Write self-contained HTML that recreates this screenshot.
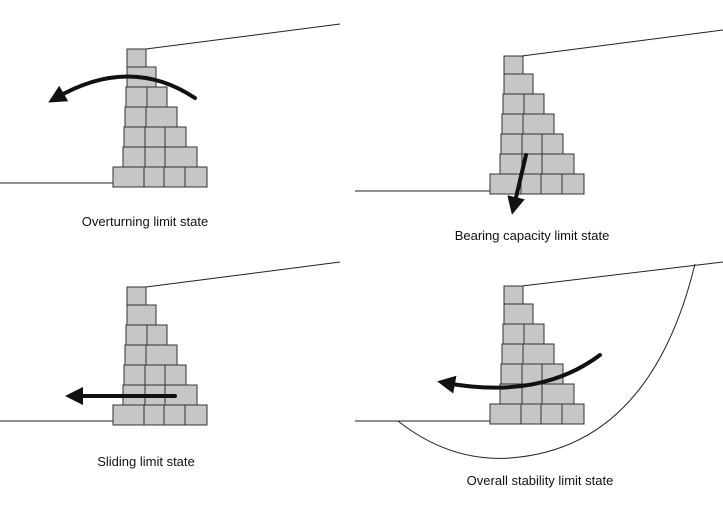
<!DOCTYPE html>
<html><head><meta charset="utf-8"><style>
html,body{margin:0;padding:0;background:#fff;}
svg{display:block;}
text{font-family:"Liberation Sans",Arial,sans-serif;font-size:13px;fill:#111;}
</style></head><body>
<svg width="723" height="515" viewBox="0 0 723 515" xmlns="http://www.w3.org/2000/svg">
<defs>
<g id="wall" fill="#c6c6c6" stroke="#333" stroke-width="1">
<rect x="127" y="49" width="19" height="18"/>
<rect x="127" y="67" width="29" height="20"/>
<rect x="126" y="87" width="21" height="20"/><rect x="147" y="87" width="20" height="20"/>
<rect x="125" y="107" width="21" height="20"/><rect x="146" y="107" width="31" height="20"/>
<rect x="124" y="127" width="21" height="20"/><rect x="145" y="127" width="20" height="20"/><rect x="165" y="127" width="21" height="20"/>
<rect x="123" y="147" width="22" height="20"/><rect x="145" y="147" width="20" height="20"/><rect x="165" y="147" width="32" height="20"/>
<rect x="113" y="167" width="31" height="20"/><rect x="144" y="167" width="20" height="20"/><rect x="164" y="167" width="21" height="20"/><rect x="185" y="167" width="22" height="20"/>
</g>
<marker id="ah" viewBox="0 0 10 10" refX="5" refY="5" markerWidth="4.5" markerHeight="4.5" orient="auto"><path d="M0,0 L10,5 L0,10 z" fill="#111"/></marker>
</defs>
<g stroke="#222" stroke-width="1" fill="none">
<line x1="0" y1="183" x2="113" y2="183"/><line x1="146" y1="49" x2="340" y2="24"/>
<line x1="355" y1="191" x2="490" y2="191"/><line x1="522" y1="56" x2="723" y2="30"/>
<line x1="0" y1="421" x2="113" y2="421"/><line x1="146" y1="287" x2="340" y2="262"/>
<line x1="355" y1="421" x2="490" y2="421"/><line x1="522" y1="286" x2="723" y2="262"/>
<path d="M398,421 Q450,462 510,458 Q650,448 695,264"/>
</g>
<use href="#wall"/>
<use href="#wall" transform="translate(377,7)"/>
<use href="#wall" transform="translate(0,238)"/>
<use href="#wall" transform="translate(377,237)"/>
<g stroke="#111" stroke-width="4" fill="none" stroke-linecap="round">
<path d="M195,98 Q130,55 56,98" marker-end="url(#ah)"/>
<line x1="526" y1="155" x2="514" y2="206" marker-end="url(#ah)"/>
<line x1="175" y1="396" x2="74" y2="396" marker-end="url(#ah)"/>
<path d="M600,355 Q540,400 446,383" marker-end="url(#ah)"/>
</g>
<text x="145" y="226" text-anchor="middle">Overturning limit state</text>
<text x="532" y="240" text-anchor="middle">Bearing capacity limit state</text>
<text x="146" y="466" text-anchor="middle">Sliding limit state</text>
<text x="540" y="485" text-anchor="middle">Overall stability limit state</text>
</svg>
</body></html>
